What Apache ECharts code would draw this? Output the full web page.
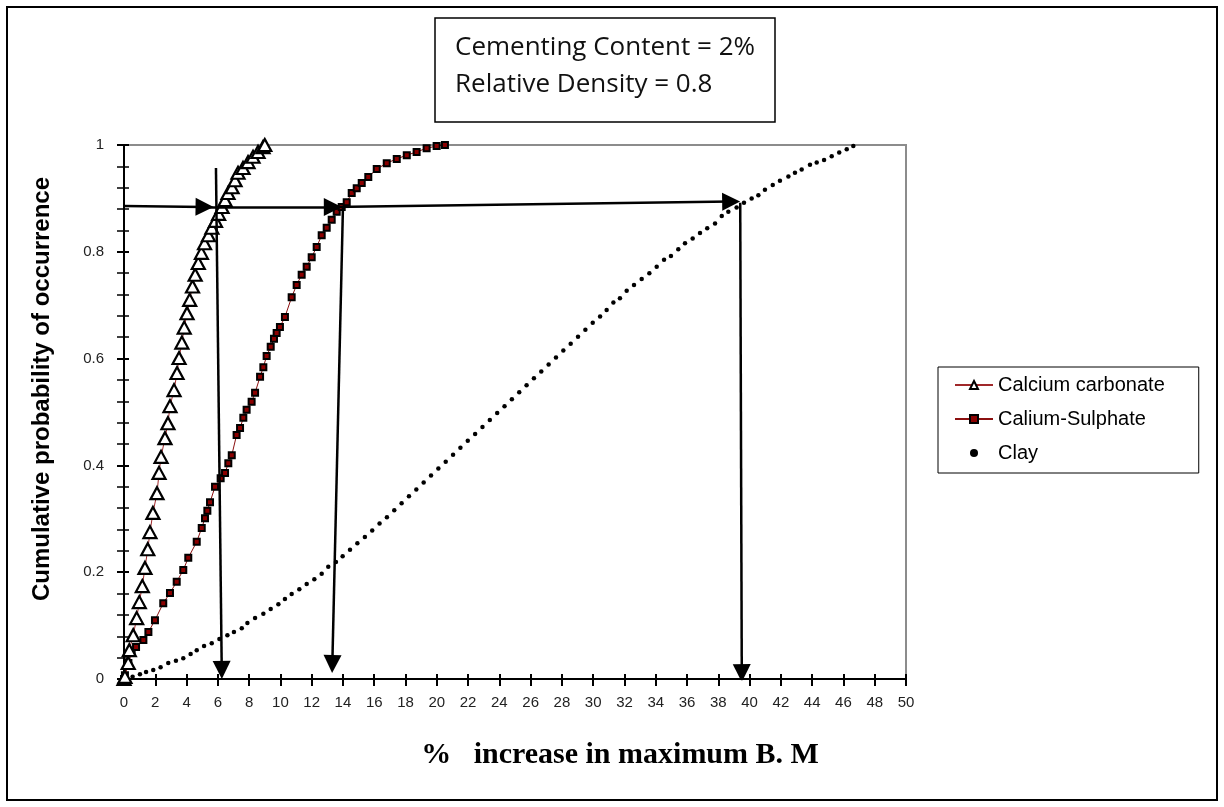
<!DOCTYPE html>
<html>
<head>
<meta charset="utf-8">
<script src="https://cdn.jsdelivr.net/npm/echarts@6/dist/echarts.min.js"></script>
<style>html,body{margin:0;padding:0;background:#fff;}#c{width:1224px;height:807px;}</style>
</head>
<body>
<div id="c"></div>
<script>
// ---- data ----
const calciumCarbonate = [[0,0],[0.06,0.004],[0.27,0.030],[0.34,0.054],[0.59,0.082],[0.81,0.114],[0.98,0.144],[1.17,0.174],[1.34,0.208],[1.52,0.243],[1.66,0.275],[1.85,0.311],[2.11,0.348],[2.24,0.386],[2.37,0.416],[2.62,0.451],[2.81,0.479],[2.94,0.511],[3.20,0.541],[3.39,0.573],[3.52,0.601],[3.70,0.630],[3.85,0.658],[4.03,0.685],[4.20,0.710],[4.38,0.735],[4.55,0.757],[4.75,0.779],[4.95,0.798],[5.15,0.816],[5.40,0.831],[5.62,0.845],[5.85,0.858],[6.05,0.871],[6.27,0.884],[6.46,0.897],[6.65,0.910],[6.91,0.921],[7.10,0.934],[7.29,0.948],[7.61,0.957],[7.93,0.968],[8.25,0.978],[8.57,0.987],[8.89,0.996],[9.0,1.0]];
const calciumSulphate = [[0,0],[0.06,0.007],[0.28,0.030],[0.49,0.049],[0.77,0.060],[1.24,0.073],[1.56,0.088],[1.98,0.110],[2.51,0.142],[2.94,0.161],[3.37,0.182],[3.79,0.204],[4.11,0.227],[4.65,0.257],[4.97,0.283],[5.18,0.301],[5.33,0.315],[5.50,0.331],[5.82,0.360],[6.18,0.376],[6.46,0.386],[6.67,0.404],[6.89,0.419],[7.20,0.457],[7.42,0.470],[7.63,0.489],[7.84,0.504],[8.16,0.519],[8.38,0.536],[8.70,0.566],[8.91,0.584],[9.12,0.605],[9.38,0.622],[9.59,0.637],[9.76,0.648],[9.97,0.659],[10.29,0.678],[10.72,0.715],[11.04,0.738],[11.36,0.757],[11.68,0.772],[12.00,0.790],[12.32,0.809],[12.64,0.831],[12.96,0.845],[13.28,0.860],[13.60,0.875],[13.92,0.884],[14.24,0.893],[14.56,0.910],[14.88,0.919],[15.20,0.929],[15.62,0.940],[16.16,0.955],[16.80,0.966],[17.44,0.974],[18.08,0.981],[18.71,0.987],[19.35,0.994],[19.99,0.998],[20.52,1.0]];
const clay = [[0.55,0.004],[1.02,0.009],[1.41,0.013],[1.87,0.017],[2.34,0.022],[2.83,0.030],[3.32,0.034],[3.79,0.039],[4.26,0.047],[4.65,0.054],[5.12,0.062],[5.61,0.067],[6.10,0.075],[6.61,0.082],[7.03,0.088],[7.53,0.095],[7.89,0.105],[8.38,0.114],[8.91,0.122],[9.38,0.131],[9.87,0.140],[10.29,0.150],[10.72,0.159],[11.21,0.168],[11.68,0.178],[12.17,0.187],[12.64,0.197],[13.06,0.210],[13.55,0.219],[13.98,0.230],[14.45,0.242],[14.92,0.254],[15.40,0.266],[15.87,0.278],[16.34,0.291],[16.81,0.303],[17.28,0.316],[17.75,0.329],[18.22,0.342],[18.69,0.355],[19.16,0.368],[19.63,0.381],[20.10,0.394],[20.57,0.407],[21.04,0.420],[21.51,0.433],[21.98,0.446],[22.45,0.459],[22.92,0.472],[23.39,0.485],[23.86,0.498],[24.33,0.511],[24.80,0.524],[25.27,0.537],[25.74,0.550],[26.21,0.563],[26.68,0.576],[27.15,0.589],[27.62,0.602],[28.09,0.615],[28.56,0.628],[29.03,0.641],[29.50,0.654],[29.97,0.667],[30.44,0.679],[30.86,0.691],[31.29,0.705],[31.71,0.713],[32.14,0.727],[32.61,0.738],[33.10,0.749],[33.59,0.760],[34.06,0.772],[34.53,0.785],[34.97,0.792],[35.44,0.805],[35.87,0.816],[36.36,0.825],[36.83,0.835],[37.29,0.844],[37.79,0.853],[38.22,0.867],[38.64,0.875],[39.17,0.883],[39.64,0.892],[40.13,0.900],[40.56,0.906],[40.98,0.916],[41.48,0.925],[41.94,0.933],[42.48,0.941],[42.90,0.948],[43.33,0.954],[43.86,0.963],[44.29,0.967],[44.76,0.972],[45.25,0.979],[45.73,0.986],[46.21,0.992],[46.63,0.998]];
// arrow annotations: [start, end] in data units (end = centre of the arrow head)
const arrows = [
  [[0,0.886],[5.15,0.884]],
  [[5.15,0.884],[13.35,0.884]],
  [[13.35,0.884],[38.82,0.894]],
  [[5.88,0.957],[6.25,0.017]],
  [[14.0,0.884],[13.32,0.028]],
  [[39.4,0.892],[39.5,0.011]]
];
const seriesNames = ['Calcium carbonate','Calium-Sulphate','Clay'];
const noteLines = ['Cementing Content = 2%','Relative Density = 0.8'];
const xTitle = '%   increase in maximum B. M';
const yTitle = 'Cumulative probability of occurrence';

const chart = echarts.init(document.getElementById('c'), null, {renderer:'canvas'});
const labelFont = {fontFamily:'Liberation Sans', fontSize:15, color:'#222'};
const option = {
  backgroundColor:'#fff',
  animation:false,
  grid:{left:124, right:318, top:145, bottom:128, show:true, borderColor:'#8c8c8c', borderWidth:2, backgroundColor:'transparent'},
  xAxis:[{
    type:'value', min:0, max:50, interval:2,
    axisLine:{show:true, onZero:false, lineStyle:{color:'#000', width:2}},
    axisTick:{show:true, inside:false, length:7, lineStyle:{color:'#000', width:2}},
    axisLabel:Object.assign({margin:16}, labelFont),
    splitLine:{show:false}
  },{
    type:'value', min:0, max:50, interval:2, position:'bottom',
    axisLine:{show:false},
    axisTick:{show:true, inside:true, length:5, lineStyle:{color:'#000', width:2}},
    axisLabel:{show:false}, splitLine:{show:false}
  }],
  yAxis:[{
    type:'value', min:0, max:1, interval:0.2,
    axisLine:{show:true, onZero:false, lineStyle:{color:'#000', width:2}},
    axisTick:{show:true, inside:false, length:7, lineStyle:{color:'#000', width:2}},
    minorTick:{show:true, splitNumber:5, length:7, lineStyle:{color:'#000', width:1.5}},
    axisLabel:Object.assign({margin:20, formatter:v=>String(+v.toFixed(1))}, labelFont),
    splitLine:{show:false}
  },{
    type:'value', min:0, max:1, interval:0.2, position:'left',
    axisLine:{show:false},
    axisTick:{show:true, inside:true, length:5, lineStyle:{color:'#000', width:2}},
    minorTick:{show:true, splitNumber:5, length:5, lineStyle:{color:'#000', width:1.5}},
    axisLabel:{show:false}, splitLine:{show:false}
  }],
  legend:{
    data:seriesNames, orient:'vertical', left:938, top:367,
    padding:[8,34,10,16], itemGap:14, itemWidth:38, itemHeight:10,
    borderColor:'#000', borderWidth:1, backgroundColor:'#fff',
    textStyle:{fontFamily:'Liberation Sans', fontSize:20, color:'#000'}
  },
  graphic:[
    {type:'rect', shape:{x:7, y:7, width:1210, height:793}, style:{fill:'none', stroke:'#000', lineWidth:2}, silent:true, z:-1},
    {type:'rect', shape:{x:435, y:18, width:340, height:104}, style:{fill:'#fff', stroke:'#000', lineWidth:1.5}, silent:true},
    {type:'text', left:455, top:35, style:{text:noteLines[0], font:'26px "Open Sans", sans-serif', fill:'#111'}},
    {type:'text', left:455, top:72, style:{text:noteLines[1], font:'26px "Open Sans", sans-serif', fill:'#111'}},
    {type:'text', x:42, y:389, rotation:Math.PI/2, style:{text:yTitle, font:'bold 24px "Liberation Sans", sans-serif', fill:'#000', align:'center', verticalAlign:'middle'}},
    {type:'text', x:620, y:755, style:{text:xTitle, font:'bold 30px "Liberation Serif", serif', fill:'#000', align:'center', verticalAlign:'middle'}}
  ],
  series:[
    {
      name:seriesNames[0], type:'line', data:calciumCarbonate, z:4,
      symbol:'triangle', symbolSize:[13,12], showAllSymbol:true,
      lineStyle:{color:'#a0282a', width:1},
      itemStyle:{color:'#fff', borderColor:'#000', borderWidth:2.2}
    },
    {
      name:seriesNames[1], type:'line', data:calciumSulphate, z:3,
      symbol:'rect', symbolSize:6, showAllSymbol:true,
      lineStyle:{color:'#8b1010', width:1},
      itemStyle:{color:'#8b0000', borderColor:'#000', borderWidth:2}
    },
    {
      name:seriesNames[2], type:'line', data:clay, z:3,
      symbol:'circle', symbolSize:4.5, showAllSymbol:true,
      lineStyle:{opacity:0, width:0},
      itemStyle:{color:'#000'}
    },
    {
      type:'lines', coordinateSystem:'cartesian2d', z:5,
      symbol:['none','triangle'], symbolSize:[15,18],
      lineStyle:{color:'#000', width:2.5, opacity:1, curveness:0},
      itemStyle:{color:'#000'},
      data:arrows.map(a=>({coords:a}))
    }
  ]
};
chart.setOption(option);
</script>
</body>
</html>
